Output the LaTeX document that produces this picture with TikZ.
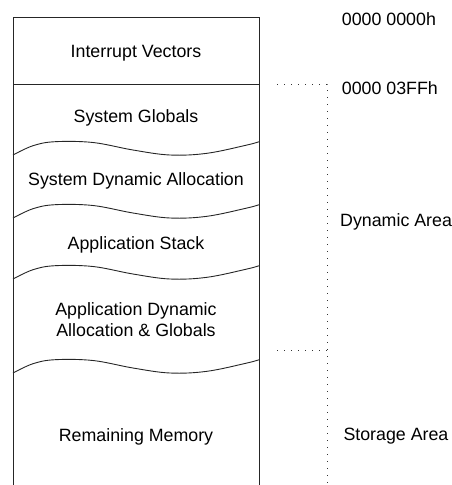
\documentclass[tikz,border=0pt]{standalone}
\usepackage{fontspec}
\setmainfont{Liberation Sans}
\begin{document}
\begin{tikzpicture}[x=1pt,y=-1pt,
  lbl/.style={inner sep=0pt,font=\fontsize{17.8}{21.7}\selectfont,anchor=base},
  rlbl/.style={inner sep=0pt,font=\fontsize{17.8}{21.7}\selectfont,anchor=base west},
  boxline/.style={line width=0.9pt,black!85},
  dotline/.style={line width=1pt,black!80,dash pattern=on 1pt off 6pt}]
\useasboundingbox (0,0) rectangle (451,485);
% memory box
\draw[boxline] (13,485) -- (13,17) -- (259,17) -- (259,485);
\draw[boxline] (13,84) -- (259,84);
% wavy separators
\foreach \b in {155,218,279,373}{
  \draw[boxline,shift={(0,\b)}] plot[smooth,tension=0.6] coordinates
    {(13,0) (33,-9.3) (55,-13.3) (93,-12.5) (133,-5) (170,0) (207,-1.7) (247,-10) (259,-13.3)};
}
% labels inside box
\node[lbl] (iv) at (136,57.3) {Interrupt Vectors};
\node[lbl] (sg) at (136,122.5) {System Globals};
\node[lbl] (sda) at (136,185.7) {System Dynamic Allocation};
\node[lbl] (as) at (136,249) {Application Stack};
\node[lbl,align=center] (ada) at (136,336.7) {Application Dynamic\\Allocation \& Globals};
\node[lbl] (rm) at (136,441) {Remaining Memory};
% right side
\coordinate (d1a) at (277,84.3);
\coordinate (d1b) at (327,84.3);
\coordinate (d2a) at (277,350);
\coordinate (d2b) at (327,350);
\coordinate (dend) at (327,485);
\draw[dotline] (d1a) -- (d1b) -- (dend);
\draw[dotline] (d2a) -- (d2b);
\node[rlbl] (a0) at (341.7,25) {0000 0000h};
\node[rlbl] (a1) at (341.7,94) {0000 03FFh};
\node[rlbl] (da) at (340,226.7) {Dynamic Area};
\node[rlbl] (sa) at (343.3,440) {Storage Area};
\end{tikzpicture}
\end{document}
